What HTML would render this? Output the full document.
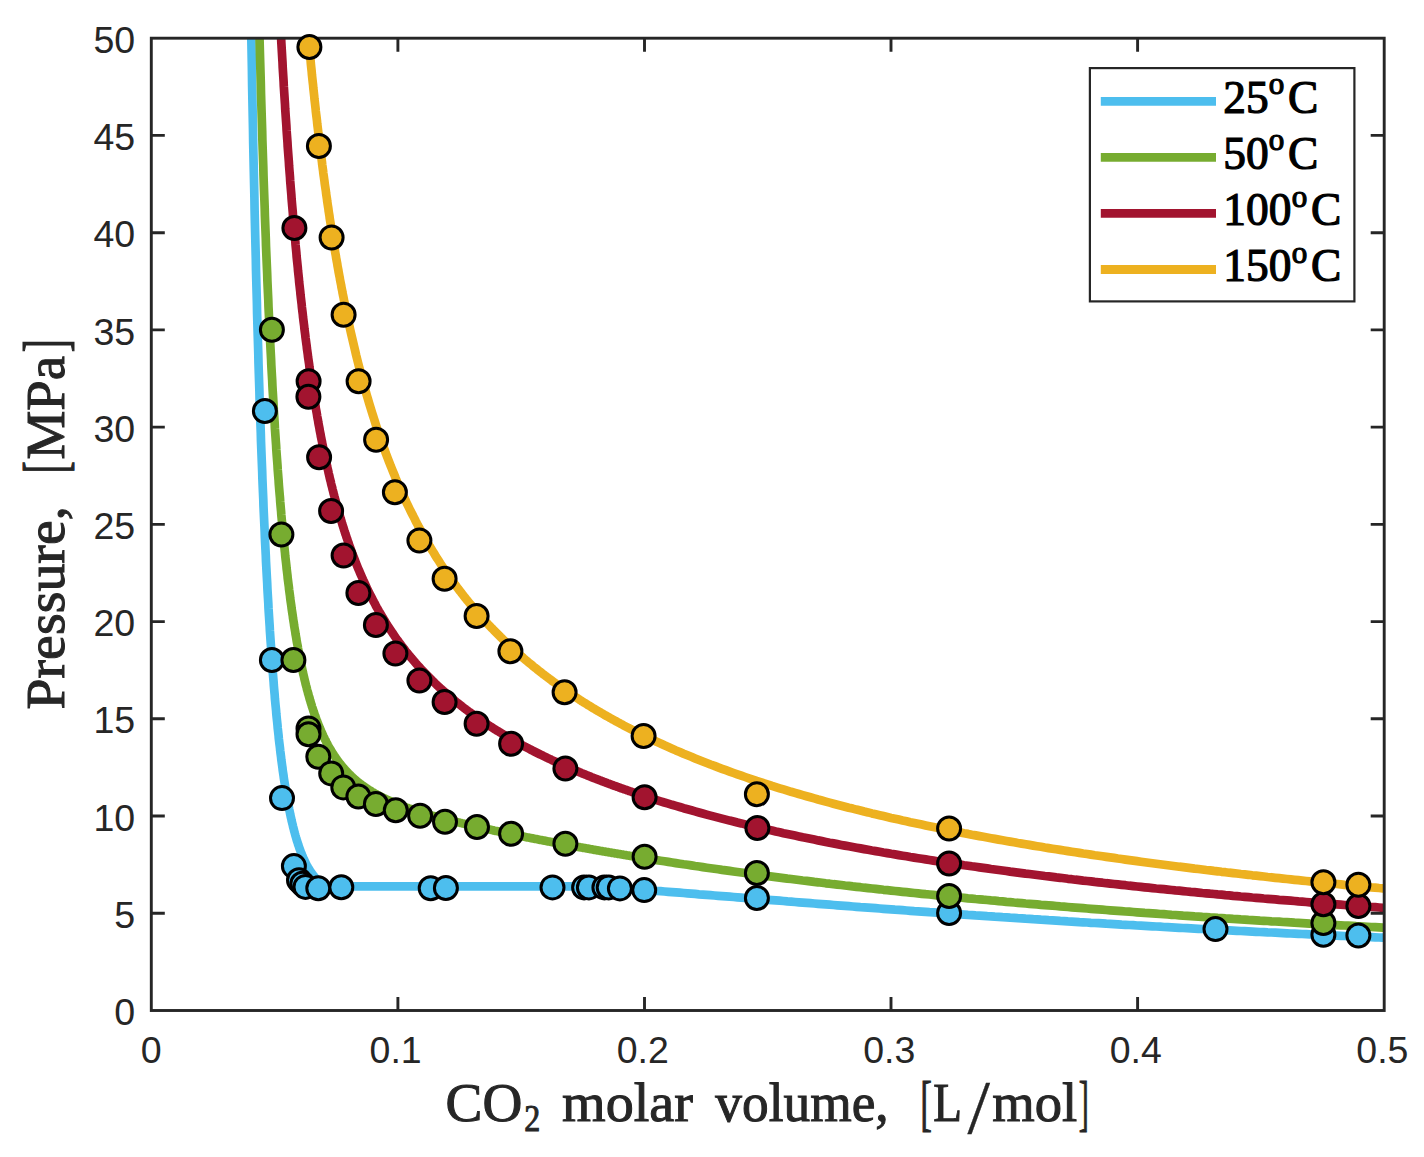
<!DOCTYPE html>
<html><head><meta charset="utf-8"><title>CO2 isotherms</title>
<style>html,body{margin:0;padding:0;background:#fff}svg{display:block}.t{font-family:"Liberation Sans",sans-serif;font-size:37.5px;fill:#262626}.s{font-family:"Liberation Serif",serif;fill:#262626}</style></head><body>
<svg width="1424" height="1157" viewBox="0 0 1424 1157">
<rect width="1424" height="1157" fill="#fff"/>
<defs><clipPath id="c"><rect x="151.3" y="38.2" width="1232.9" height="972.3"/></clipPath></defs>
<g clip-path="url(#c)" fill="none" stroke-width="8.7" stroke-linejoin="round">
<path d="M248.5 -148.9 L248.8 -128.3 L249.1 -108.2 L249.4 -88.6 L249.6 -69.4 L249.9 -50.6 L250.2 -32.3 L250.5 -14.5 L250.7 3.0 L251.0 20.1 L251.3 36.8 L251.6 53.1 L251.9 69.0 L252.1 84.6 L252.4 99.8 L252.7 114.7 L253.0 129.3 L253.2 143.5 L253.5 157.4 L253.8 171.1 L254.1 184.4 L254.4 197.5 L254.6 210.2 L254.9 222.8 L255.2 235.0 L255.5 247.0 L255.8 258.7 L256.0 270.2 L256.3 281.4 L256.6 292.4 L256.9 303.2 L257.1 313.8 L257.4 324.1 L257.7 334.3 L258.0 344.2 L258.3 354.0 L258.5 363.5 L258.8 372.8 L259.1 382.0 L259.4 391.0 L259.6 399.8 L259.9 408.4 L260.2 416.9 L260.5 425.2 L260.8 433.3 L261.0 441.3 L261.3 449.1 L261.6 456.8 L261.9 464.3 L262.2 471.7 L262.4 478.9 L262.7 486.0 L263.0 493.0 L263.3 499.8 L263.5 506.5 L263.8 513.1 L264.1 519.5 L264.4 525.9 L264.7 532.1 L264.9 538.2 L265.2 544.2 L265.5 550.1 L265.8 555.9 L266.0 561.5 L266.3 567.1 L266.6 572.6 L266.9 577.9 L267.2 583.2 L267.4 588.4 L267.7 593.5 L268.0 598.4 L268.3 603.3 L268.5 608.2 L268.8 612.9 L269.1 617.5 L269.4 622.1 L269.7 626.6 L269.9 631.0 L270.2 635.3 L270.5 639.6 L270.8 643.7 L271.1 647.9 L271.3 651.9 L271.6 655.9 L271.9 659.8 L272.2 663.6 L272.4 667.3 L272.7 671.0 L273.0 674.7 L273.3 678.3 L273.6 681.8 L273.8 685.2 L274.1 688.6 L274.4 692.0 L274.7 695.2 L274.9 698.5 L275.2 701.6 L275.5 704.8 L275.8 707.8 L276.1 710.8 L276.3 713.8 L276.6 716.7 L276.9 719.6 L277.2 722.4 L277.5 725.2 L277.7 727.9 L278.0 730.6 L278.3 733.2 L278.6 735.8 L278.8 738.4 L279.1 740.9 L279.4 743.4 L279.7 745.8 L280.0 748.2 L280.2 750.5 L280.5 752.9 L280.8 755.1 L281.1 757.4 L281.3 759.6 L281.6 761.7 L281.9 763.9 L282.2 766.0 L282.5 768.0 L282.7 770.1 L283.0 772.1 L283.3 774.0 L283.6 776.0 L283.8 777.9 L284.1 779.7 L284.4 781.6 L284.7 783.4 L285.0 785.2 L285.2 787.0 L285.5 788.7 L285.8 790.4 L286.1 792.1 L286.4 793.7 L286.6 795.3 L286.9 796.9 L287.2 798.5 L287.5 800.1 L287.7 801.6 L288.0 803.1 L288.3 804.6 L288.6 806.0 L288.9 807.4 L289.1 808.9 L289.4 810.2 L289.7 811.6 L290.0 812.9 L290.2 814.3 L290.5 815.6 L290.8 816.9 L291.1 818.1 L291.4 819.4 L291.6 820.6 L291.9 821.8 L292.2 823.0 L292.5 824.1 L292.8 825.3 L293.0 826.4 L293.3 827.5 L293.6 828.6 L293.9 829.7 L294.1 830.8 L294.4 831.8 L294.7 832.8 L295.0 833.9 L295.3 834.9 L295.5 835.8 L295.8 836.8 L296.1 837.8 L296.4 838.7 L296.6 839.6 L296.9 840.5 L297.2 841.4 L297.5 842.3 L297.8 843.2 L298.0 844.0 L298.3 844.9 L298.6 845.7 L298.9 846.5 L299.1 847.3 L299.4 848.1 L299.7 848.9 L300.0 849.7 L300.3 850.4 L300.5 851.2 L300.8 851.9 L301.1 852.6 L301.4 853.3 L301.7 854.0 L301.9 854.7 L302.2 855.4 L302.5 856.0 L302.8 856.7 L303.0 857.4 L303.3 858.0 L303.6 858.6 L303.9 859.2 L304.2 859.8 L304.4 860.4 L304.7 861.0 L305.0 861.6 L305.3 862.2 L305.5 862.7 L305.8 863.3 L306.1 863.8 L306.4 864.4 L306.7 864.9 L306.9 865.4 L307.2 865.9 L307.5 866.4 L307.8 866.9 L308.0 867.4 L308.3 867.9 L308.6 868.4 L308.9 868.8 L309.2 869.3 L309.4 869.7 L309.7 870.2 L310.0 870.6 L310.3 871.0 L310.6 871.5 L310.8 871.9 L311.1 872.3 L311.4 872.7 L311.7 873.1 L311.9 873.5 L312.2 873.8 L312.5 874.2 L312.8 874.6 L313.1 875.0 L313.3 875.3 L313.6 875.7 L313.9 876.0 L314.2 876.4 L314.4 876.7 L314.7 877.0 L315.0 877.4 L315.6 878.0 L316.1 878.6 L316.7 879.2 L317.2 879.8 L317.8 880.3 L318.3 880.9 L318.9 881.4 L319.5 881.9 L320.0 882.4 L320.6 882.8 L321.1 883.3 L321.7 883.7 L322.2 884.2 L322.8 884.6 L323.3 885.0 L323.9 885.3 L324.5 885.7 L325.0 886.1 L325.6 886.4 L591.0 886.4 L591.7 886.4 L592.7 886.5 L593.7 886.5 L594.7 886.6 L595.7 886.7 L596.7 886.7 L597.7 886.8 L598.7 886.9 L599.7 886.9 L600.7 887.0 L601.6 887.0 L602.6 887.1 L603.6 887.2 L604.6 887.2 L605.6 887.3 L606.6 887.4 L607.6 887.4 L608.6 887.5 L609.6 887.6 L610.6 887.6 L611.5 887.7 L612.5 887.8 L613.5 887.8 L614.5 887.9 L615.5 888.0 L616.5 888.0 L617.5 888.1 L618.5 888.2 L619.5 888.2 L620.5 888.3 L621.4 888.4 L622.4 888.4 L623.4 888.5 L624.4 888.6 L625.4 888.7 L626.4 888.7 L627.4 888.8 L628.4 888.9 L629.4 888.9 L630.4 889.0 L631.3 889.1 L632.3 889.1 L633.3 889.2 L634.3 889.3 L635.3 889.4 L636.3 889.4 L637.3 889.5 L638.3 889.6 L639.3 889.6 L640.3 889.7 L641.2 889.8 L642.2 889.9 L643.2 889.9 L644.2 890.0 L645.2 890.1 L649.0 890.4 L652.9 890.7 L656.7 891.0 L660.6 891.2 L664.4 891.5 L668.3 891.8 L672.1 892.1 L675.9 892.4 L679.8 892.7 L683.6 893.0 L687.5 893.3 L691.3 893.6 L695.1 893.9 L699.0 894.3 L702.8 894.6 L706.7 894.9 L710.5 895.2 L714.4 895.5 L718.2 895.8 L722.0 896.1 L725.9 896.4 L729.7 896.7 L733.6 897.0 L737.4 897.3 L741.3 897.6 L745.1 898.0 L748.9 898.3 L752.8 898.6 L756.6 898.9 L760.5 899.2 L764.3 899.5 L768.2 899.8 L772.0 900.1 L775.8 900.4 L779.7 900.7 L783.5 901.0 L787.4 901.4 L791.2 901.7 L795.0 902.0 L798.9 902.3 L802.7 902.6 L806.6 902.9 L810.4 903.2 L814.3 903.5 L818.1 903.8 L821.9 904.1 L825.8 904.4 L829.6 904.7 L833.5 905.0 L837.3 905.3 L841.2 905.6 L845.0 905.9 L848.8 906.2 L852.7 906.5 L856.5 906.8 L860.4 907.1 L864.2 907.3 L868.1 907.6 L871.9 907.9 L875.7 908.2 L879.6 908.5 L883.4 908.8 L887.3 909.1 L891.1 909.4 L894.9 909.7 L898.8 909.9 L902.6 910.2 L906.5 910.5 L910.3 910.8 L914.2 911.1 L918.0 911.3 L921.8 911.6 L925.7 911.9 L929.5 912.2 L933.4 912.4 L937.2 912.7 L941.1 913.0 L944.9 913.3 L948.7 913.5 L952.6 913.8 L956.4 914.1 L960.3 914.3 L964.1 914.6 L968.0 914.9 L971.8 915.1 L975.6 915.4 L979.5 915.6 L983.3 915.9 L987.2 916.2 L991.0 916.4 L994.8 916.7 L998.7 916.9 L1002.5 917.2 L1006.4 917.4 L1010.2 917.7 L1014.1 917.9 L1017.9 918.2 L1021.7 918.4 L1025.6 918.7 L1029.4 918.9 L1033.3 919.2 L1037.1 919.4 L1041.0 919.7 L1044.8 919.9 L1048.6 920.2 L1052.5 920.4 L1056.3 920.6 L1060.2 920.9 L1064.0 921.1 L1067.9 921.4 L1071.7 921.6 L1075.5 921.8 L1079.4 922.1 L1083.2 922.3 L1087.1 922.5 L1090.9 922.8 L1094.7 923.0 L1098.6 923.2 L1102.4 923.4 L1106.3 923.7 L1110.1 923.9 L1114.0 924.1 L1117.8 924.3 L1121.6 924.6 L1125.5 924.8 L1129.3 925.0 L1133.2 925.2 L1137.0 925.5 L1140.9 925.7 L1144.7 925.9 L1148.5 926.1 L1152.4 926.3 L1156.2 926.5 L1160.1 926.7 L1163.9 927.0 L1167.8 927.2 L1171.6 927.4 L1175.4 927.6 L1179.3 927.8 L1183.1 928.0 L1187.0 928.2 L1190.8 928.4 L1194.6 928.6 L1198.5 928.8 L1202.3 929.0 L1206.2 929.2 L1210.0 929.4 L1213.9 929.6 L1217.7 929.8 L1221.5 930.0 L1225.4 930.2 L1229.2 930.4 L1233.1 930.6 L1236.9 930.8 L1240.8 931.0 L1244.6 931.2 L1248.4 931.4 L1252.3 931.6 L1256.1 931.8 L1260.0 932.0 L1263.8 932.2 L1267.7 932.4 L1271.5 932.5 L1275.3 932.7 L1279.2 932.9 L1283.0 933.1 L1286.9 933.3 L1290.7 933.5 L1294.5 933.6 L1298.4 933.8 L1302.2 934.0 L1306.1 934.2 L1309.9 934.4 L1313.8 934.6 L1317.6 934.7 L1321.4 934.9 L1325.3 935.1 L1329.1 935.3 L1333.0 935.4 L1336.8 935.6 L1340.7 935.8 L1344.5 936.0 L1348.3 936.1 L1352.2 936.3 L1356.0 936.5 L1359.9 936.6 L1363.7 936.8 L1367.5 937.0 L1371.4 937.1 L1375.2 937.3 L1379.1 937.5 L1382.9 937.6 L1386.8 937.8 L1390.6 938.0 L1394.4 938.1 L1398.3 938.3 L1402.1 938.5 L1406.0 938.6 L1409.8 938.8" stroke="#4DBEEE"/>
<path d="M255.5 -146.2 L255.8 -131.9 L256.0 -117.9 L256.3 -104.2 L256.6 -90.8 L256.9 -77.6 L257.1 -64.7 L257.4 -52.0 L257.7 -39.5 L258.0 -27.3 L258.3 -15.3 L258.5 -3.6 L258.8 8.0 L259.1 19.3 L259.4 30.5 L259.6 41.4 L259.9 52.1 L260.2 62.6 L260.5 73.0 L260.8 83.2 L261.0 93.1 L261.3 102.9 L261.6 112.6 L261.9 122.0 L262.2 131.3 L262.4 140.5 L262.7 149.4 L263.0 158.3 L263.3 166.9 L263.5 175.4 L263.8 183.8 L264.1 192.1 L264.4 200.2 L264.7 208.1 L264.9 215.9 L265.2 223.6 L265.5 231.2 L265.8 238.7 L266.0 246.0 L266.3 253.2 L266.6 260.3 L266.9 267.2 L267.2 274.1 L267.4 280.8 L267.7 287.5 L268.0 294.0 L268.3 300.4 L268.5 306.8 L268.8 313.0 L269.1 319.1 L269.4 325.1 L269.7 331.1 L269.9 336.9 L270.2 342.7 L270.5 348.4 L270.8 353.9 L271.1 359.4 L271.3 364.8 L271.6 370.2 L271.9 375.4 L272.2 380.6 L272.4 385.7 L272.7 390.7 L273.0 395.6 L273.3 400.5 L273.6 405.3 L273.8 410.0 L274.1 414.6 L274.4 419.2 L274.7 423.7 L274.9 428.2 L275.2 432.6 L275.5 436.9 L275.8 441.2 L276.1 445.3 L276.3 449.5 L276.6 453.6 L276.9 457.6 L277.2 461.5 L277.5 465.5 L277.7 469.3 L278.0 473.1 L278.3 476.8 L278.6 480.5 L278.8 484.2 L279.1 487.8 L279.4 491.3 L279.7 494.8 L280.0 498.2 L280.2 501.6 L280.5 505.0 L280.8 508.3 L281.1 511.6 L281.3 514.8 L281.6 517.9 L281.9 521.1 L282.2 524.2 L282.5 527.2 L282.7 530.2 L283.0 533.2 L283.3 536.1 L283.6 539.0 L283.8 541.8 L284.1 544.7 L284.4 547.4 L284.7 550.2 L285.0 552.9 L285.2 555.5 L285.5 558.2 L285.8 560.8 L286.1 563.3 L286.4 565.9 L286.6 568.4 L286.9 570.8 L287.2 573.3 L287.5 575.7 L287.7 578.1 L288.0 580.4 L288.3 582.7 L288.6 585.0 L288.9 587.3 L289.1 589.5 L289.4 591.7 L289.7 593.9 L290.0 596.0 L290.2 598.2 L290.5 600.3 L290.8 602.3 L291.1 604.4 L291.4 606.4 L291.6 608.4 L291.9 610.4 L292.2 612.3 L292.5 614.2 L292.8 616.1 L293.0 618.0 L293.3 619.9 L293.6 621.7 L293.9 623.5 L294.1 625.3 L294.4 627.1 L294.7 628.8 L295.0 630.5 L295.3 632.2 L295.5 633.9 L295.8 635.6 L296.1 637.3 L296.4 638.9 L296.6 640.5 L296.9 642.1 L297.2 643.7 L297.5 645.2 L297.8 646.7 L298.0 648.3 L298.3 649.8 L298.6 651.3 L298.9 652.7 L299.1 654.2 L299.4 655.6 L299.7 657.0 L300.0 658.4 L300.3 659.8 L300.5 661.2 L300.8 662.5 L301.1 663.9 L301.4 665.2 L301.7 666.5 L301.9 667.8 L302.2 669.1 L302.5 670.4 L302.8 671.6 L303.0 672.9 L303.3 674.1 L303.6 675.3 L303.9 676.5 L304.2 677.7 L304.4 678.9 L304.7 680.0 L305.0 681.2 L305.3 682.3 L305.5 683.4 L305.8 684.6 L306.1 685.7 L306.4 686.7 L306.7 687.8 L306.9 688.9 L307.2 689.9 L307.5 691.0 L307.8 692.0 L308.0 693.0 L308.3 694.1 L308.6 695.1 L308.9 696.1 L309.2 697.0 L309.4 698.0 L309.7 699.0 L310.0 699.9 L310.3 700.9 L310.6 701.8 L310.8 702.7 L311.1 703.6 L311.4 704.5 L311.7 705.4 L311.9 706.3 L312.2 707.2 L312.5 708.0 L312.8 708.9 L313.1 709.8 L313.3 710.6 L313.6 711.4 L313.9 712.3 L314.2 713.1 L314.4 713.9 L314.7 714.7 L315.0 715.5 L315.3 716.3 L315.6 717.0 L315.8 717.8 L316.1 718.6 L316.4 719.3 L316.7 720.1 L317.0 720.8 L317.2 721.5 L317.5 722.3 L317.8 723.0 L318.1 723.7 L318.3 724.4 L318.6 725.1 L318.9 725.8 L319.2 726.5 L319.5 727.2 L319.7 727.8 L320.0 728.5 L320.3 729.2 L320.6 729.8 L320.8 730.5 L321.1 731.1 L321.4 731.7 L321.7 732.4 L322.0 733.0 L322.2 733.6 L322.5 734.2 L322.8 734.8 L323.1 735.4 L323.3 736.0 L323.6 736.6 L323.9 737.2 L324.2 737.8 L324.5 738.4 L324.7 738.9 L325.0 739.5 L325.3 740.0 L325.6 740.6 L325.9 741.1 L326.1 741.7 L326.4 742.2 L326.7 742.8 L327.0 743.3 L327.2 743.8 L327.5 744.3 L327.8 744.9 L328.1 745.4 L328.4 745.9 L328.6 746.4 L328.9 746.9 L329.2 747.4 L329.5 747.9 L329.7 748.3 L330.0 748.8 L330.3 749.3 L330.6 749.8 L330.9 750.2 L331.1 750.7 L331.4 751.2 L331.7 751.6 L332.0 752.1 L332.3 752.5 L332.5 753.0 L332.8 753.4 L333.1 753.9 L333.4 754.3 L333.6 754.7 L333.9 755.1 L334.2 755.6 L334.5 756.0 L334.8 756.4 L335.0 756.8 L335.3 757.2 L335.6 757.6 L335.9 758.0 L336.1 758.4 L336.4 758.8 L336.7 759.2 L337.0 759.6 L337.3 760.0 L337.5 760.4 L337.8 760.8 L338.1 761.1 L338.4 761.5 L338.6 761.9 L338.9 762.3 L339.2 762.6 L339.5 763.0 L339.8 763.4 L340.0 763.7 L340.3 764.1 L340.6 764.4 L340.9 764.8 L341.2 765.1 L341.4 765.5 L341.7 765.8 L342.0 766.1 L342.3 766.5 L342.5 766.8 L342.8 767.1 L343.1 767.5 L343.4 767.8 L343.7 768.1 L344.2 768.8 L344.8 769.4 L345.3 770.0 L345.9 770.6 L346.4 771.2 L347.0 771.8 L347.6 772.4 L348.1 773.0 L348.7 773.6 L349.2 774.1 L350.2 775.1 L351.2 776.0 L352.2 777.0 L353.2 777.9 L354.2 778.8 L355.2 779.6 L356.1 780.5 L357.1 781.3 L358.1 782.1 L359.1 782.9 L360.1 783.7 L361.1 784.4 L362.1 785.2 L363.1 785.9 L364.1 786.6 L365.1 787.3 L366.0 788.0 L367.0 788.6 L368.0 789.3 L369.0 789.9 L370.0 790.5 L371.0 791.1 L372.0 791.8 L373.0 792.3 L374.0 792.9 L375.0 793.5 L375.9 794.0 L376.9 794.6 L377.9 795.1 L378.9 795.7 L379.9 796.2 L380.9 796.7 L381.9 797.2 L382.9 797.7 L383.9 798.2 L384.9 798.6 L385.8 799.1 L386.8 799.6 L387.8 800.0 L388.8 800.5 L389.8 800.9 L390.8 801.3 L391.8 801.8 L392.8 802.2 L393.8 802.6 L394.8 803.0 L395.7 803.4 L396.7 803.8 L397.7 804.2 L398.7 804.6 L399.7 805.0 L400.7 805.4 L401.7 805.8 L402.7 806.1 L403.7 806.5 L404.7 806.9 L405.6 807.2 L406.6 807.6 L407.6 807.9 L408.6 808.3 L409.6 808.6 L410.6 808.9 L411.6 809.3 L412.6 809.6 L413.6 809.9 L414.6 810.3 L415.5 810.6 L416.5 810.9 L417.5 811.2 L418.5 811.5 L419.5 811.9 L420.5 812.2 L421.5 812.5 L422.5 812.8 L423.5 813.1 L424.5 813.4 L425.4 813.7 L426.4 814.0 L427.4 814.2 L428.4 814.5 L429.4 814.8 L430.4 815.1 L431.4 815.4 L432.4 815.7 L433.4 815.9 L434.4 816.2 L435.3 816.5 L436.3 816.8 L437.3 817.0 L438.3 817.3 L439.3 817.6 L440.3 817.8 L441.3 818.1 L442.3 818.4 L443.3 818.6 L444.3 818.9 L445.2 819.1 L446.2 819.4 L447.2 819.7 L448.2 819.9 L449.2 820.2 L450.2 820.4 L451.2 820.7 L452.2 820.9 L453.2 821.2 L454.1 821.4 L455.1 821.6 L456.1 821.9 L457.1 822.1 L458.1 822.4 L459.1 822.6 L460.1 822.8 L461.1 823.1 L462.1 823.3 L463.1 823.6 L464.0 823.8 L465.0 824.0 L466.0 824.3 L467.0 824.5 L468.0 824.7 L469.0 825.0 L470.0 825.2 L471.0 825.4 L472.0 825.6 L473.0 825.9 L473.9 826.1 L474.9 826.3 L475.9 826.5 L476.9 826.8 L477.9 827.0 L478.9 827.2 L479.9 827.4 L480.9 827.7 L481.9 827.9 L482.9 828.1 L483.8 828.3 L484.8 828.5 L485.8 828.7 L486.8 829.0 L487.8 829.2 L488.8 829.4 L489.8 829.6 L490.8 829.8 L491.8 830.0 L492.8 830.2 L493.7 830.5 L494.7 830.7 L495.7 830.9 L496.7 831.1 L497.7 831.3 L498.7 831.5 L499.7 831.7 L500.7 831.9 L501.7 832.1 L502.7 832.3 L503.6 832.6 L504.6 832.8 L505.6 833.0 L506.6 833.2 L507.6 833.4 L508.6 833.6 L509.6 833.8 L510.6 834.0 L511.6 834.2 L512.6 834.4 L513.5 834.6 L514.5 834.8 L515.5 835.0 L516.5 835.2 L517.5 835.4 L518.5 835.6 L519.5 835.8 L520.5 836.0 L521.5 836.2 L522.5 836.4 L523.4 836.6 L524.4 836.8 L525.4 837.0 L526.4 837.2 L527.4 837.4 L528.4 837.6 L529.4 837.8 L530.4 838.0 L531.4 838.2 L532.4 838.3 L533.3 838.5 L534.3 838.7 L535.3 838.9 L536.3 839.1 L537.3 839.3 L538.3 839.5 L539.3 839.7 L540.3 839.9 L541.3 840.1 L542.3 840.3 L543.2 840.5 L544.2 840.6 L545.2 840.8 L546.2 841.0 L547.2 841.2 L548.2 841.4 L549.2 841.6 L550.2 841.8 L551.2 842.0 L552.1 842.1 L553.1 842.3 L554.1 842.5 L555.1 842.7 L556.1 842.9 L557.1 843.1 L558.1 843.3 L559.1 843.4 L560.1 843.6 L561.1 843.8 L562.0 844.0 L563.0 844.2 L564.0 844.4 L565.0 844.5 L566.0 844.7 L567.0 844.9 L568.0 845.1 L569.0 845.3 L570.0 845.4 L571.0 845.6 L571.9 845.8 L572.9 846.0 L573.9 846.2 L574.9 846.3 L575.9 846.5 L576.9 846.7 L577.9 846.9 L578.9 847.1 L579.9 847.2 L580.9 847.4 L581.8 847.6 L582.8 847.8 L583.8 847.9 L584.8 848.1 L585.8 848.3 L586.8 848.5 L587.8 848.6 L588.8 848.8 L589.8 849.0 L590.8 849.2 L591.7 849.3 L592.7 849.5 L593.7 849.7 L594.7 849.9 L595.7 850.0 L596.7 850.2 L597.7 850.4 L598.7 850.5 L599.7 850.7 L600.7 850.9 L601.6 851.1 L602.6 851.2 L603.6 851.4 L604.6 851.6 L605.6 851.7 L606.6 851.9 L607.6 852.1 L608.6 852.2 L609.6 852.4 L610.6 852.6 L611.5 852.8 L612.5 852.9 L613.5 853.1 L614.5 853.3 L615.5 853.4 L616.5 853.6 L617.5 853.8 L618.5 853.9 L619.5 854.1 L620.5 854.3 L621.4 854.4 L622.4 854.6 L623.4 854.7 L624.4 854.9 L625.4 855.1 L626.4 855.2 L627.4 855.4 L628.4 855.6 L629.4 855.7 L630.4 855.9 L631.3 856.1 L632.3 856.2 L633.3 856.4 L634.3 856.5 L635.3 856.7 L636.3 856.9 L637.3 857.0 L638.3 857.2 L639.3 857.3 L640.3 857.5 L641.2 857.7 L642.2 857.8 L643.2 858.0 L644.2 858.1 L645.2 858.3 L649.0 858.9 L652.9 859.5 L656.7 860.1 L660.6 860.7 L664.4 861.3 L668.3 861.9 L672.1 862.5 L675.9 863.1 L679.8 863.7 L683.6 864.3 L687.5 864.8 L691.3 865.4 L695.1 866.0 L699.0 866.5 L702.8 867.1 L706.7 867.7 L710.5 868.2 L714.4 868.8 L718.2 869.3 L722.0 869.9 L725.9 870.4 L729.7 870.9 L733.6 871.5 L737.4 872.0 L741.3 872.5 L745.1 873.0 L748.9 873.6 L752.8 874.1 L756.6 874.6 L760.5 875.1 L764.3 875.6 L768.2 876.1 L772.0 876.6 L775.8 877.1 L779.7 877.6 L783.5 878.1 L787.4 878.6 L791.2 879.0 L795.0 879.5 L798.9 880.0 L802.7 880.5 L806.6 880.9 L810.4 881.4 L814.3 881.9 L818.1 882.3 L821.9 882.8 L825.8 883.3 L829.6 883.7 L833.5 884.2 L837.3 884.6 L841.2 885.0 L845.0 885.5 L848.8 885.9 L852.7 886.4 L856.5 886.8 L860.4 887.2 L864.2 887.7 L868.1 888.1 L871.9 888.5 L875.7 888.9 L879.6 889.3 L883.4 889.8 L887.3 890.2 L891.1 890.6 L894.9 891.0 L898.8 891.4 L902.6 891.8 L906.5 892.2 L910.3 892.6 L914.2 893.0 L918.0 893.4 L921.8 893.8 L925.7 894.2 L929.5 894.5 L933.4 894.9 L937.2 895.3 L941.1 895.7 L944.9 896.1 L948.7 896.4 L952.6 896.8 L956.4 897.2 L960.3 897.5 L964.1 897.9 L968.0 898.3 L971.8 898.6 L975.6 899.0 L979.5 899.3 L983.3 899.7 L987.2 900.0 L991.0 900.4 L994.8 900.7 L998.7 901.1 L1002.5 901.4 L1006.4 901.8 L1010.2 902.1 L1014.1 902.5 L1017.9 902.8 L1021.7 903.1 L1025.6 903.5 L1029.4 903.8 L1033.3 904.1 L1037.1 904.4 L1041.0 904.8 L1044.8 905.1 L1048.6 905.4 L1052.5 905.7 L1056.3 906.0 L1060.2 906.4 L1064.0 906.7 L1067.9 907.0 L1071.7 907.3 L1075.5 907.6 L1079.4 907.9 L1083.2 908.2 L1087.1 908.5 L1090.9 908.8 L1094.7 909.1 L1098.6 909.4 L1102.4 909.7 L1106.3 910.0 L1110.1 910.3 L1114.0 910.6 L1117.8 910.9 L1121.6 911.2 L1125.5 911.5 L1129.3 911.7 L1133.2 912.0 L1137.0 912.3 L1140.9 912.6 L1144.7 912.9 L1148.5 913.1 L1152.4 913.4 L1156.2 913.7 L1160.1 914.0 L1163.9 914.2 L1167.8 914.5 L1171.6 914.8 L1175.4 915.0 L1179.3 915.3 L1183.1 915.6 L1187.0 915.8 L1190.8 916.1 L1194.6 916.4 L1198.5 916.6 L1202.3 916.9 L1206.2 917.1 L1210.0 917.4 L1213.9 917.6 L1217.7 917.9 L1221.5 918.1 L1225.4 918.4 L1229.2 918.6 L1233.1 918.9 L1236.9 919.1 L1240.8 919.4 L1244.6 919.6 L1248.4 919.9 L1252.3 920.1 L1256.1 920.3 L1260.0 920.6 L1263.8 920.8 L1267.7 921.0 L1271.5 921.3 L1275.3 921.5 L1279.2 921.7 L1283.0 922.0 L1286.9 922.2 L1290.7 922.4 L1294.5 922.7 L1298.4 922.9 L1302.2 923.1 L1306.1 923.3 L1309.9 923.6 L1313.8 923.8 L1317.6 924.0 L1321.4 924.2 L1325.3 924.4 L1329.1 924.7 L1333.0 924.9 L1336.8 925.1 L1340.7 925.3 L1344.5 925.5 L1348.3 925.7 L1352.2 925.9 L1356.0 926.2 L1359.9 926.4 L1363.7 926.6 L1367.5 926.8 L1371.4 927.0 L1375.2 927.2 L1379.1 927.4 L1382.9 927.6 L1386.8 927.8 L1390.6 928.0 L1394.4 928.2 L1398.3 928.4 L1402.1 928.6 L1406.0 928.8 L1409.8 929.0" stroke="#77AC30"/>
<path d="M272.7 -151.0 L273.0 -143.5 L273.3 -136.1 L273.6 -128.9 L273.8 -121.7 L274.1 -114.6 L274.4 -107.6 L274.7 -100.7 L274.9 -93.8 L275.2 -87.1 L275.5 -80.5 L275.8 -73.9 L276.1 -67.4 L276.3 -61.0 L276.6 -54.6 L276.9 -48.4 L277.2 -42.2 L277.5 -36.1 L277.7 -30.1 L278.0 -24.1 L278.3 -18.2 L278.6 -12.4 L278.8 -6.7 L279.1 -1.0 L279.4 4.6 L279.7 10.2 L280.0 15.7 L280.2 21.1 L280.5 26.5 L280.8 31.8 L281.1 37.0 L281.3 42.2 L281.6 47.3 L281.9 52.3 L282.2 57.4 L282.5 62.3 L282.7 67.2 L283.0 72.0 L283.3 76.8 L283.6 81.5 L283.8 86.2 L284.1 90.8 L284.4 95.4 L284.7 100.0 L285.0 104.4 L285.2 108.9 L285.5 113.2 L285.8 117.6 L286.1 121.9 L286.4 126.1 L286.6 130.3 L286.9 134.5 L287.2 138.6 L287.5 142.6 L287.7 146.7 L288.0 150.7 L288.3 154.6 L288.6 158.5 L288.9 162.4 L289.1 166.2 L289.4 170.0 L289.7 173.7 L290.0 177.4 L290.2 181.1 L290.5 184.7 L290.8 188.3 L291.1 191.9 L291.4 195.4 L291.6 198.9 L291.9 202.3 L292.2 205.8 L292.5 209.2 L292.8 212.5 L293.0 215.8 L293.3 219.1 L293.6 222.4 L293.9 225.6 L294.1 228.8 L294.4 232.0 L294.7 235.1 L295.0 238.2 L295.3 241.3 L295.5 244.3 L295.8 247.4 L296.1 250.3 L296.4 253.3 L296.6 256.2 L296.9 259.2 L297.2 262.0 L297.5 264.9 L297.8 267.7 L298.0 270.5 L298.3 273.3 L298.6 276.0 L298.9 278.8 L299.1 281.5 L299.4 284.2 L299.7 286.8 L300.0 289.4 L300.3 292.1 L300.5 294.6 L300.8 297.2 L301.1 299.7 L301.4 302.3 L301.7 304.8 L301.9 307.2 L302.2 309.7 L302.5 312.1 L302.8 314.5 L303.0 316.9 L303.3 319.3 L303.6 321.6 L303.9 324.0 L304.2 326.3 L304.4 328.6 L304.7 330.8 L305.0 333.1 L305.3 335.3 L305.5 337.5 L305.8 339.7 L306.1 341.9 L306.4 344.1 L306.7 346.2 L306.9 348.3 L307.2 350.4 L307.5 352.5 L307.8 354.6 L308.0 356.7 L308.3 358.7 L308.6 360.7 L308.9 362.7 L309.2 364.7 L309.4 366.7 L309.7 368.7 L310.0 370.6 L310.3 372.5 L310.6 374.4 L310.8 376.3 L311.1 378.2 L311.4 380.1 L311.7 382.0 L311.9 383.8 L312.2 385.6 L312.5 387.4 L312.8 389.2 L313.1 391.0 L313.3 392.8 L313.6 394.6 L313.9 396.3 L314.2 398.0 L314.4 399.7 L314.7 401.5 L315.0 403.1 L315.3 404.8 L315.6 406.5 L315.8 408.2 L316.1 409.8 L316.4 411.4 L316.7 413.0 L317.0 414.7 L317.2 416.3 L317.5 417.8 L317.8 419.4 L318.1 421.0 L318.3 422.5 L318.6 424.1 L318.9 425.6 L319.2 427.1 L319.5 428.6 L319.7 430.1 L320.0 431.6 L320.3 433.1 L320.6 434.5 L320.8 436.0 L321.1 437.4 L321.4 438.9 L321.7 440.3 L322.0 441.7 L322.2 443.1 L322.5 444.5 L322.8 445.9 L323.1 447.3 L323.3 448.7 L323.6 450.0 L323.9 451.4 L324.2 452.7 L324.5 454.0 L324.7 455.4 L325.0 456.7 L325.3 458.0 L325.6 459.3 L325.9 460.6 L326.1 461.8 L326.4 463.1 L326.7 464.4 L327.0 465.6 L327.2 466.9 L327.5 468.1 L327.8 469.3 L328.1 470.6 L328.4 471.8 L328.6 473.0 L328.9 474.2 L329.2 475.4 L329.5 476.6 L329.7 477.7 L330.0 478.9 L330.3 480.1 L330.6 481.2 L330.9 482.4 L331.1 483.5 L331.4 484.7 L331.7 485.8 L332.0 486.9 L332.3 488.0 L332.5 489.1 L332.8 490.2 L333.1 491.3 L333.4 492.4 L333.6 493.5 L333.9 494.5 L334.2 495.6 L334.5 496.7 L334.8 497.7 L335.0 498.8 L335.3 499.8 L335.6 500.8 L335.9 501.9 L336.1 502.9 L336.4 503.9 L336.7 504.9 L337.0 505.9 L337.3 506.9 L337.5 507.9 L337.8 508.9 L338.1 509.9 L338.4 510.9 L338.6 511.8 L338.9 512.8 L339.2 513.8 L339.5 514.7 L339.8 515.7 L340.0 516.6 L340.3 517.5 L340.6 518.5 L340.9 519.4 L341.2 520.3 L341.4 521.2 L341.7 522.1 L342.0 523.1 L342.3 524.0 L342.5 524.8 L342.8 525.7 L343.1 526.6 L343.4 527.5 L343.7 528.4 L343.9 529.3 L344.2 530.1 L344.5 531.0 L344.8 531.8 L345.0 532.7 L345.3 533.6 L345.6 534.4 L345.9 535.2 L346.2 536.1 L346.4 536.9 L346.7 537.7 L347.0 538.6 L347.3 539.4 L347.6 540.2 L347.8 541.0 L348.1 541.8 L348.4 542.6 L348.7 543.4 L348.9 544.2 L349.2 545.0 L350.2 547.8 L351.2 550.5 L352.2 553.2 L353.2 555.8 L354.2 558.4 L355.2 560.9 L356.1 563.4 L357.1 565.9 L358.1 568.3 L359.1 570.6 L360.1 573.0 L361.1 575.3 L362.1 577.5 L363.1 579.8 L364.1 581.9 L365.1 584.1 L366.0 586.2 L367.0 588.3 L368.0 590.4 L369.0 592.4 L370.0 594.4 L371.0 596.3 L372.0 598.3 L373.0 600.2 L374.0 602.1 L375.0 603.9 L375.9 605.8 L376.9 607.6 L377.9 609.3 L378.9 611.1 L379.9 612.8 L380.9 614.5 L381.9 616.2 L382.9 617.9 L383.9 619.5 L384.9 621.1 L385.8 622.7 L386.8 624.3 L387.8 625.9 L388.8 627.4 L389.8 628.9 L390.8 630.4 L391.8 631.9 L392.8 633.4 L393.8 634.8 L394.8 636.3 L395.7 637.7 L396.7 639.1 L397.7 640.4 L398.7 641.8 L399.7 643.2 L400.7 644.5 L401.7 645.8 L402.7 647.1 L403.7 648.4 L404.7 649.7 L405.6 651.0 L406.6 652.2 L407.6 653.4 L408.6 654.7 L409.6 655.9 L410.6 657.1 L411.6 658.3 L412.6 659.4 L413.6 660.6 L414.6 661.7 L415.5 662.9 L416.5 664.0 L417.5 665.1 L418.5 666.2 L419.5 667.3 L420.5 668.4 L421.5 669.5 L422.5 670.5 L423.5 671.6 L424.5 672.6 L425.4 673.7 L426.4 674.7 L427.4 675.7 L428.4 676.7 L429.4 677.7 L430.4 678.7 L431.4 679.7 L432.4 680.7 L433.4 681.6 L434.4 682.6 L435.3 683.5 L436.3 684.5 L437.3 685.4 L438.3 686.3 L439.3 687.3 L440.3 688.2 L441.3 689.1 L442.3 690.0 L443.3 690.8 L444.3 691.7 L445.2 692.6 L446.2 693.5 L447.2 694.3 L448.2 695.2 L449.2 696.0 L450.2 696.9 L451.2 697.7 L452.2 698.5 L453.2 699.3 L454.1 700.2 L455.1 701.0 L456.1 701.8 L457.1 702.6 L458.1 703.4 L459.1 704.1 L460.1 704.9 L461.1 705.7 L462.1 706.5 L463.1 707.2 L464.0 708.0 L465.0 708.7 L466.0 709.5 L467.0 710.2 L468.0 711.0 L469.0 711.7 L470.0 712.4 L471.0 713.1 L472.0 713.9 L473.0 714.6 L473.9 715.3 L474.9 716.0 L475.9 716.7 L476.9 717.4 L477.9 718.1 L478.9 718.8 L479.9 719.4 L480.9 720.1 L481.9 720.8 L482.9 721.5 L483.8 722.1 L484.8 722.8 L485.8 723.4 L486.8 724.1 L487.8 724.7 L488.8 725.4 L489.8 726.0 L490.8 726.7 L491.8 727.3 L492.8 727.9 L493.7 728.6 L494.7 729.2 L495.7 729.8 L496.7 730.4 L497.7 731.0 L498.7 731.6 L499.7 732.2 L500.7 732.8 L501.7 733.4 L502.7 734.0 L503.6 734.6 L504.6 735.2 L505.6 735.8 L506.6 736.4 L507.6 737.0 L508.6 737.5 L509.6 738.1 L510.6 738.7 L511.6 739.2 L512.6 739.8 L513.5 740.4 L514.5 740.9 L515.5 741.5 L516.5 742.0 L517.5 742.6 L518.5 743.1 L519.5 743.7 L520.5 744.2 L521.5 744.7 L522.5 745.3 L523.4 745.8 L524.4 746.3 L525.4 746.9 L526.4 747.4 L527.4 747.9 L528.4 748.4 L529.4 748.9 L530.4 749.5 L531.4 750.0 L532.4 750.5 L533.3 751.0 L534.3 751.5 L535.3 752.0 L536.3 752.5 L537.3 753.0 L538.3 753.5 L539.3 754.0 L540.3 754.5 L541.3 754.9 L542.3 755.4 L543.2 755.9 L544.2 756.4 L545.2 756.9 L546.2 757.4 L547.2 757.8 L548.2 758.3 L549.2 758.8 L550.2 759.2 L551.2 759.7 L552.1 760.2 L553.1 760.6 L554.1 761.1 L555.1 761.5 L556.1 762.0 L557.1 762.5 L558.1 762.9 L559.1 763.4 L560.1 763.8 L561.1 764.2 L562.0 764.7 L563.0 765.1 L564.0 765.6 L565.0 766.0 L566.0 766.4 L567.0 766.9 L568.0 767.3 L569.0 767.7 L570.0 768.2 L571.0 768.6 L571.9 769.0 L572.9 769.5 L573.9 769.9 L574.9 770.3 L575.9 770.7 L576.9 771.1 L577.9 771.5 L578.9 772.0 L579.9 772.4 L580.9 772.8 L581.8 773.2 L582.8 773.6 L583.8 774.0 L584.8 774.4 L585.8 774.8 L586.8 775.2 L587.8 775.6 L588.8 776.0 L589.8 776.4 L590.8 776.8 L591.7 777.2 L592.7 777.6 L593.7 778.0 L594.7 778.4 L595.7 778.7 L596.7 779.1 L597.7 779.5 L598.7 779.9 L599.7 780.3 L600.7 780.7 L601.6 781.0 L602.6 781.4 L603.6 781.8 L604.6 782.2 L605.6 782.5 L606.6 782.9 L607.6 783.3 L608.6 783.6 L609.6 784.0 L610.6 784.4 L611.5 784.7 L612.5 785.1 L613.5 785.5 L614.5 785.8 L615.5 786.2 L616.5 786.5 L617.5 786.9 L618.5 787.2 L619.5 787.6 L620.5 788.0 L621.4 788.3 L622.4 788.7 L623.4 789.0 L624.4 789.4 L625.4 789.7 L626.4 790.0 L627.4 790.4 L628.4 790.7 L629.4 791.1 L630.4 791.4 L631.3 791.7 L632.3 792.1 L633.3 792.4 L634.3 792.8 L635.3 793.1 L636.3 793.4 L637.3 793.8 L638.3 794.1 L639.3 794.4 L640.3 794.8 L641.2 795.1 L642.2 795.4 L643.2 795.7 L644.2 796.1 L645.2 796.4 L649.0 797.6 L652.9 798.9 L656.7 800.1 L660.6 801.3 L664.4 802.5 L668.3 803.6 L672.1 804.8 L675.9 805.9 L679.8 807.0 L683.6 808.2 L687.5 809.3 L691.3 810.3 L695.1 811.4 L699.0 812.5 L702.8 813.5 L706.7 814.6 L710.5 815.6 L714.4 816.6 L718.2 817.6 L722.0 818.6 L725.9 819.6 L729.7 820.6 L733.6 821.5 L737.4 822.5 L741.3 823.4 L745.1 824.4 L748.9 825.3 L752.8 826.2 L756.6 827.1 L760.5 828.0 L764.3 828.9 L768.2 829.8 L772.0 830.6 L775.8 831.5 L779.7 832.3 L783.5 833.2 L787.4 834.0 L791.2 834.8 L795.0 835.6 L798.9 836.4 L802.7 837.3 L806.6 838.0 L810.4 838.8 L814.3 839.6 L818.1 840.4 L821.9 841.1 L825.8 841.9 L829.6 842.7 L833.5 843.4 L837.3 844.1 L841.2 844.9 L845.0 845.6 L848.8 846.3 L852.7 847.0 L856.5 847.7 L860.4 848.4 L864.2 849.1 L868.1 849.8 L871.9 850.5 L875.7 851.1 L879.6 851.8 L883.4 852.5 L887.3 853.1 L891.1 853.8 L894.9 854.4 L898.8 855.1 L902.6 855.7 L906.5 856.3 L910.3 857.0 L914.2 857.6 L918.0 858.2 L921.8 858.8 L925.7 859.4 L929.5 860.0 L933.4 860.6 L937.2 861.2 L941.1 861.8 L944.9 862.3 L948.7 862.9 L952.6 863.5 L956.4 864.1 L960.3 864.6 L964.1 865.2 L968.0 865.7 L971.8 866.3 L975.6 866.8 L979.5 867.4 L983.3 867.9 L987.2 868.4 L991.0 869.0 L994.8 869.5 L998.7 870.0 L1002.5 870.5 L1006.4 871.0 L1010.2 871.6 L1014.1 872.1 L1017.9 872.6 L1021.7 873.1 L1025.6 873.6 L1029.4 874.0 L1033.3 874.5 L1037.1 875.0 L1041.0 875.5 L1044.8 876.0 L1048.6 876.4 L1052.5 876.9 L1056.3 877.4 L1060.2 877.8 L1064.0 878.3 L1067.9 878.8 L1071.7 879.2 L1075.5 879.7 L1079.4 880.1 L1083.2 880.6 L1087.1 881.0 L1090.9 881.4 L1094.7 881.9 L1098.6 882.3 L1102.4 882.7 L1106.3 883.2 L1110.1 883.6 L1114.0 884.0 L1117.8 884.4 L1121.6 884.8 L1125.5 885.2 L1129.3 885.7 L1133.2 886.1 L1137.0 886.5 L1140.9 886.9 L1144.7 887.3 L1148.5 887.7 L1152.4 888.1 L1156.2 888.5 L1160.1 888.8 L1163.9 889.2 L1167.8 889.6 L1171.6 890.0 L1175.4 890.4 L1179.3 890.7 L1183.1 891.1 L1187.0 891.5 L1190.8 891.9 L1194.6 892.2 L1198.5 892.6 L1202.3 893.0 L1206.2 893.3 L1210.0 893.7 L1213.9 894.0 L1217.7 894.4 L1221.5 894.7 L1225.4 895.1 L1229.2 895.4 L1233.1 895.8 L1236.9 896.1 L1240.8 896.5 L1244.6 896.8 L1248.4 897.1 L1252.3 897.5 L1256.1 897.8 L1260.0 898.1 L1263.8 898.5 L1267.7 898.8 L1271.5 899.1 L1275.3 899.4 L1279.2 899.8 L1283.0 900.1 L1286.9 900.4 L1290.7 900.7 L1294.5 901.0 L1298.4 901.4 L1302.2 901.7 L1306.1 902.0 L1309.9 902.3 L1313.8 902.6 L1317.6 902.9 L1321.4 903.2 L1325.3 903.5 L1329.1 903.8 L1333.0 904.1 L1336.8 904.4 L1340.7 904.7 L1344.5 905.0 L1348.3 905.3 L1352.2 905.5 L1356.0 905.8 L1359.9 906.1 L1363.7 906.4 L1367.5 906.7 L1371.4 907.0 L1375.2 907.2 L1379.1 907.5 L1382.9 907.8 L1386.8 908.1 L1390.6 908.3 L1394.4 908.6 L1398.3 908.9 L1402.1 909.2 L1406.0 909.4 L1409.8 909.7" stroke="#A2142F"/>
<path d="M293.9 -156.1 L294.1 -151.5 L294.4 -147.0 L294.7 -142.6 L295.0 -138.1 L295.3 -133.7 L295.5 -129.4 L295.8 -125.1 L296.1 -120.8 L296.4 -116.5 L296.6 -112.3 L296.9 -108.1 L297.2 -104.0 L297.5 -99.9 L297.8 -95.8 L298.0 -91.8 L298.3 -87.8 L298.6 -83.8 L298.9 -79.9 L299.1 -76.0 L299.4 -72.1 L299.7 -68.3 L300.0 -64.5 L300.3 -60.7 L300.5 -56.9 L300.8 -53.2 L301.1 -49.5 L301.4 -45.8 L301.7 -42.2 L301.9 -38.6 L302.2 -35.0 L302.5 -31.5 L302.8 -28.0 L303.0 -24.5 L303.3 -21.0 L303.6 -17.6 L303.9 -14.2 L304.2 -10.8 L304.4 -7.4 L304.7 -4.1 L305.0 -0.8 L305.3 2.5 L305.5 5.8 L305.8 9.0 L306.1 12.2 L306.4 15.4 L306.7 18.6 L306.9 21.7 L307.2 24.8 L307.5 27.9 L307.8 31.0 L308.0 34.0 L308.3 37.1 L308.6 40.1 L308.9 43.1 L309.2 46.0 L309.4 49.0 L309.7 51.9 L310.0 54.8 L310.3 57.7 L310.6 60.5 L310.8 63.3 L311.1 66.2 L311.4 69.0 L311.7 71.7 L311.9 74.5 L312.2 77.2 L312.5 80.0 L312.8 82.7 L313.1 85.3 L313.3 88.0 L313.6 90.6 L313.9 93.3 L314.2 95.9 L314.4 98.5 L314.7 101.1 L315.0 103.6 L315.3 106.2 L315.6 108.7 L315.8 111.2 L316.1 113.7 L316.4 116.1 L316.7 118.6 L317.0 121.0 L317.2 123.5 L317.5 125.9 L317.8 128.3 L318.1 130.6 L318.3 133.0 L318.6 135.4 L318.9 137.7 L319.2 140.0 L319.5 142.3 L319.7 144.6 L320.0 146.9 L320.3 149.1 L320.6 151.4 L320.8 153.6 L321.1 155.8 L321.4 158.0 L321.7 160.2 L322.0 162.4 L322.2 164.5 L322.5 166.7 L322.8 168.8 L323.1 170.9 L323.3 173.0 L323.6 175.1 L323.9 177.2 L324.2 179.3 L324.5 181.3 L324.7 183.4 L325.0 185.4 L325.3 187.4 L325.6 189.4 L325.9 191.4 L326.1 193.4 L326.4 195.4 L326.7 197.4 L327.0 199.3 L327.2 201.2 L327.5 203.2 L327.8 205.1 L328.1 207.0 L328.4 208.9 L328.6 210.8 L328.9 212.6 L329.2 214.5 L329.5 216.3 L329.7 218.2 L330.0 220.0 L330.3 221.8 L330.6 223.6 L330.9 225.4 L331.1 227.2 L331.4 229.0 L331.7 230.8 L332.0 232.5 L332.3 234.3 L332.5 236.0 L332.8 237.7 L333.1 239.4 L333.4 241.2 L333.6 242.9 L333.9 244.5 L334.2 246.2 L334.5 247.9 L334.8 249.6 L335.0 251.2 L335.3 252.9 L335.6 254.5 L335.9 256.1 L336.1 257.7 L336.4 259.3 L336.7 260.9 L337.0 262.5 L337.3 264.1 L337.5 265.7 L337.8 267.3 L338.1 268.8 L338.4 270.4 L338.6 271.9 L338.9 273.4 L339.2 275.0 L339.5 276.5 L339.8 278.0 L340.0 279.5 L340.3 281.0 L340.6 282.5 L340.9 284.0 L341.2 285.4 L341.4 286.9 L341.7 288.4 L342.0 289.8 L342.3 291.2 L342.5 292.7 L342.8 294.1 L343.1 295.5 L343.4 296.9 L343.7 298.4 L343.9 299.8 L344.2 301.1 L344.5 302.5 L344.8 303.9 L345.0 305.3 L345.3 306.6 L345.6 308.0 L345.9 309.4 L346.2 310.7 L346.4 312.0 L346.7 313.4 L347.0 314.7 L347.3 316.0 L347.6 317.3 L347.8 318.6 L348.1 319.9 L348.4 321.2 L348.7 322.5 L348.9 323.8 L349.2 325.1 L350.2 329.6 L351.2 334.0 L352.2 338.3 L353.2 342.6 L354.2 346.8 L355.2 351.0 L356.1 355.0 L357.1 359.0 L358.1 363.0 L359.1 366.9 L360.1 370.7 L361.1 374.5 L362.1 378.2 L363.1 381.8 L364.1 385.4 L365.1 389.0 L366.0 392.5 L367.0 395.9 L368.0 399.3 L369.0 402.7 L370.0 406.0 L371.0 409.3 L372.0 412.5 L373.0 415.6 L374.0 418.8 L375.0 421.9 L375.9 424.9 L376.9 427.9 L377.9 430.9 L378.9 433.8 L379.9 436.7 L380.9 439.5 L381.9 442.3 L382.9 445.1 L383.9 447.9 L384.9 450.6 L385.8 453.3 L386.8 455.9 L387.8 458.5 L388.8 461.1 L389.8 463.6 L390.8 466.2 L391.8 468.6 L392.8 471.1 L393.8 473.5 L394.8 475.9 L395.7 478.3 L396.7 480.7 L397.7 483.0 L398.7 485.3 L399.7 487.6 L400.7 489.8 L401.7 492.0 L402.7 494.2 L403.7 496.4 L404.7 498.5 L405.6 500.7 L406.6 502.8 L407.6 504.9 L408.6 506.9 L409.6 509.0 L410.6 511.0 L411.6 513.0 L412.6 514.9 L413.6 516.9 L414.6 518.8 L415.5 520.8 L416.5 522.7 L417.5 524.5 L418.5 526.4 L419.5 528.2 L420.5 530.1 L421.5 531.9 L422.5 533.7 L423.5 535.5 L424.5 537.2 L425.4 539.0 L426.4 540.7 L427.4 542.4 L428.4 544.1 L429.4 545.8 L430.4 547.4 L431.4 549.1 L432.4 550.7 L433.4 552.3 L434.4 553.9 L435.3 555.5 L436.3 557.1 L437.3 558.7 L438.3 560.2 L439.3 561.7 L440.3 563.3 L441.3 564.8 L442.3 566.3 L443.3 567.8 L444.3 569.2 L445.2 570.7 L446.2 572.1 L447.2 573.6 L448.2 575.0 L449.2 576.4 L450.2 577.8 L451.2 579.2 L452.2 580.6 L453.2 582.0 L454.1 583.3 L455.1 584.7 L456.1 586.0 L457.1 587.3 L458.1 588.6 L459.1 590.0 L460.1 591.3 L461.1 592.5 L462.1 593.8 L463.1 595.1 L464.0 596.3 L465.0 597.6 L466.0 598.8 L467.0 600.1 L468.0 601.3 L469.0 602.5 L470.0 603.7 L471.0 604.9 L472.0 606.1 L473.0 607.3 L473.9 608.4 L474.9 609.6 L475.9 610.7 L476.9 611.9 L477.9 613.0 L478.9 614.2 L479.9 615.3 L480.9 616.4 L481.9 617.5 L482.9 618.6 L483.8 619.7 L484.8 620.8 L485.8 621.8 L486.8 622.9 L487.8 624.0 L488.8 625.0 L489.8 626.1 L490.8 627.1 L491.8 628.2 L492.8 629.2 L493.7 630.2 L494.7 631.2 L495.7 632.2 L496.7 633.2 L497.7 634.2 L498.7 635.2 L499.7 636.2 L500.7 637.2 L501.7 638.1 L502.7 639.1 L503.6 640.1 L504.6 641.0 L505.6 642.0 L506.6 642.9 L507.6 643.8 L508.6 644.8 L509.6 645.7 L510.6 646.6 L511.6 647.5 L512.6 648.4 L513.5 649.3 L514.5 650.2 L515.5 651.1 L516.5 652.0 L517.5 652.9 L518.5 653.8 L519.5 654.7 L520.5 655.5 L521.5 656.4 L522.5 657.2 L523.4 658.1 L524.4 658.9 L525.4 659.8 L526.4 660.6 L527.4 661.4 L528.4 662.3 L529.4 663.1 L530.4 663.9 L531.4 664.7 L532.4 665.5 L533.3 666.4 L534.3 667.2 L535.3 667.9 L536.3 668.7 L537.3 669.5 L538.3 670.3 L539.3 671.1 L540.3 671.9 L541.3 672.6 L542.3 673.4 L543.2 674.2 L544.2 674.9 L545.2 675.7 L546.2 676.4 L547.2 677.2 L548.2 677.9 L549.2 678.7 L550.2 679.4 L551.2 680.1 L552.1 680.9 L553.1 681.6 L554.1 682.3 L555.1 683.0 L556.1 683.8 L557.1 684.5 L558.1 685.2 L559.1 685.9 L560.1 686.6 L561.1 687.3 L562.0 688.0 L563.0 688.7 L564.0 689.3 L565.0 690.0 L566.0 690.7 L567.0 691.4 L568.0 692.1 L569.0 692.7 L570.0 693.4 L571.0 694.1 L571.9 694.7 L572.9 695.4 L573.9 696.0 L574.9 696.7 L575.9 697.3 L576.9 698.0 L577.9 698.6 L578.9 699.3 L579.9 699.9 L580.9 700.5 L581.8 701.2 L582.8 701.8 L583.8 702.4 L584.8 703.0 L585.8 703.6 L586.8 704.3 L587.8 704.9 L588.8 705.5 L589.8 706.1 L590.8 706.7 L591.7 707.3 L592.7 707.9 L593.7 708.5 L594.7 709.1 L595.7 709.7 L596.7 710.3 L597.7 710.9 L598.7 711.4 L599.7 712.0 L600.7 712.6 L601.6 713.2 L602.6 713.7 L603.6 714.3 L604.6 714.9 L605.6 715.5 L606.6 716.0 L607.6 716.6 L608.6 717.1 L609.6 717.7 L610.6 718.3 L611.5 718.8 L612.5 719.4 L613.5 719.9 L614.5 720.4 L615.5 721.0 L616.5 721.5 L617.5 722.1 L618.5 722.6 L619.5 723.1 L620.5 723.7 L621.4 724.2 L622.4 724.7 L623.4 725.3 L624.4 725.8 L625.4 726.3 L626.4 726.8 L627.4 727.3 L628.4 727.8 L629.4 728.4 L630.4 728.9 L631.3 729.4 L632.3 729.9 L633.3 730.4 L634.3 730.9 L635.3 731.4 L636.3 731.9 L637.3 732.4 L638.3 732.9 L639.3 733.4 L640.3 733.9 L641.2 734.4 L642.2 734.8 L643.2 735.3 L644.2 735.8 L645.2 736.3 L649.0 738.1 L652.9 740.0 L656.7 741.8 L660.6 743.5 L664.4 745.3 L668.3 747.0 L672.1 748.7 L675.9 750.4 L679.8 752.0 L683.6 753.7 L687.5 755.3 L691.3 756.8 L695.1 758.4 L699.0 760.0 L702.8 761.5 L706.7 763.0 L710.5 764.5 L714.4 765.9 L718.2 767.4 L722.0 768.8 L725.9 770.2 L729.7 771.6 L733.6 773.0 L737.4 774.3 L741.3 775.7 L745.1 777.0 L748.9 778.3 L752.8 779.6 L756.6 780.9 L760.5 782.1 L764.3 783.4 L768.2 784.6 L772.0 785.9 L775.8 787.1 L779.7 788.3 L783.5 789.4 L787.4 790.6 L791.2 791.8 L795.0 792.9 L798.9 794.0 L802.7 795.1 L806.6 796.2 L810.4 797.3 L814.3 798.4 L818.1 799.5 L821.9 800.5 L825.8 801.6 L829.6 802.6 L833.5 803.7 L837.3 804.7 L841.2 805.7 L845.0 806.7 L848.8 807.7 L852.7 808.6 L856.5 809.6 L860.4 810.5 L864.2 811.5 L868.1 812.4 L871.9 813.4 L875.7 814.3 L879.6 815.2 L883.4 816.1 L887.3 817.0 L891.1 817.9 L894.9 818.7 L898.8 819.6 L902.6 820.5 L906.5 821.3 L910.3 822.2 L914.2 823.0 L918.0 823.8 L921.8 824.6 L925.7 825.5 L929.5 826.3 L933.4 827.1 L937.2 827.8 L941.1 828.6 L944.9 829.4 L948.7 830.2 L952.6 830.9 L956.4 831.7 L960.3 832.4 L964.1 833.2 L968.0 833.9 L971.8 834.7 L975.6 835.4 L979.5 836.1 L983.3 836.8 L987.2 837.5 L991.0 838.2 L994.8 838.9 L998.7 839.6 L1002.5 840.3 L1006.4 841.0 L1010.2 841.6 L1014.1 842.3 L1017.9 843.0 L1021.7 843.6 L1025.6 844.3 L1029.4 844.9 L1033.3 845.6 L1037.1 846.2 L1041.0 846.8 L1044.8 847.5 L1048.6 848.1 L1052.5 848.7 L1056.3 849.3 L1060.2 849.9 L1064.0 850.5 L1067.9 851.1 L1071.7 851.7 L1075.5 852.3 L1079.4 852.9 L1083.2 853.5 L1087.1 854.0 L1090.9 854.6 L1094.7 855.2 L1098.6 855.7 L1102.4 856.3 L1106.3 856.9 L1110.1 857.4 L1114.0 857.9 L1117.8 858.5 L1121.6 859.0 L1125.5 859.6 L1129.3 860.1 L1133.2 860.6 L1137.0 861.1 L1140.9 861.7 L1144.7 862.2 L1148.5 862.7 L1152.4 863.2 L1156.2 863.7 L1160.1 864.2 L1163.9 864.7 L1167.8 865.2 L1171.6 865.7 L1175.4 866.2 L1179.3 866.7 L1183.1 867.1 L1187.0 867.6 L1190.8 868.1 L1194.6 868.6 L1198.5 869.0 L1202.3 869.5 L1206.2 870.0 L1210.0 870.4 L1213.9 870.9 L1217.7 871.3 L1221.5 871.8 L1225.4 872.2 L1229.2 872.7 L1233.1 873.1 L1236.9 873.5 L1240.8 874.0 L1244.6 874.4 L1248.4 874.8 L1252.3 875.3 L1256.1 875.7 L1260.0 876.1 L1263.8 876.5 L1267.7 877.0 L1271.5 877.4 L1275.3 877.8 L1279.2 878.2 L1283.0 878.6 L1286.9 879.0 L1290.7 879.4 L1294.5 879.8 L1298.4 880.2 L1302.2 880.6 L1306.1 881.0 L1309.9 881.4 L1313.8 881.8 L1317.6 882.1 L1321.4 882.5 L1325.3 882.9 L1329.1 883.3 L1333.0 883.7 L1336.8 884.0 L1340.7 884.4 L1344.5 884.8 L1348.3 885.1 L1352.2 885.5 L1356.0 885.9 L1359.9 886.2 L1363.7 886.6 L1367.5 886.9 L1371.4 887.3 L1375.2 887.6 L1379.1 888.0 L1382.9 888.3 L1386.8 888.7 L1390.6 889.0 L1394.4 889.4 L1398.3 889.7 L1402.1 890.0 L1406.0 890.4 L1409.8 890.7" stroke="#EDB120"/>
</g>
<g stroke="#262626" stroke-width="2.9" fill="none" stroke-linecap="butt">
<rect x="151.3" y="38.2" width="1232.9" height="972.3"/>
<path d="M397.9 1010.5v-13.5M397.9 38.2v13.5M644.5 1010.5v-13.5M644.5 38.2v13.5M891.0 1010.5v-13.5M891.0 38.2v13.5M1137.6 1010.5v-13.5M1137.6 38.2v13.5M151.3 913.3h13.5M1384.2 913.3h-13.5M151.3 816.0h13.5M1384.2 816.0h-13.5M151.3 718.8h13.5M1384.2 718.8h-13.5M151.3 621.6h13.5M1384.2 621.6h-13.5M151.3 524.4h13.5M1384.2 524.4h-13.5M151.3 427.1h13.5M1384.2 427.1h-13.5M151.3 329.9h13.5M1384.2 329.9h-13.5M151.3 232.7h13.5M1384.2 232.7h-13.5M151.3 135.4h13.5M1384.2 135.4h-13.5"/>
</g>
<text class="t" x="151.3" y="1063" text-anchor="middle" textLength="20.9" lengthAdjust="spacingAndGlyphs">0</text>
<text class="t" x="395.6" y="1063" text-anchor="middle" textLength="52.1" lengthAdjust="spacingAndGlyphs">0.1</text>
<text class="t" x="642.7" y="1063" text-anchor="middle" textLength="52.1" lengthAdjust="spacingAndGlyphs">0.2</text>
<text class="t" x="889.2" y="1063" text-anchor="middle" textLength="52.1" lengthAdjust="spacingAndGlyphs">0.3</text>
<text class="t" x="1135.8" y="1063" text-anchor="middle" textLength="52.1" lengthAdjust="spacingAndGlyphs">0.4</text>
<text class="t" x="1382.4" y="1063" text-anchor="middle" textLength="52.1" lengthAdjust="spacingAndGlyphs">0.5</text>
<text class="t" x="135.2" y="1025.1" text-anchor="end" textLength="20.9" lengthAdjust="spacingAndGlyphs">0</text>
<text class="t" x="135.2" y="927.9" text-anchor="end" textLength="20.9" lengthAdjust="spacingAndGlyphs">5</text>
<text class="t" x="135.2" y="830.6" text-anchor="end" textLength="41.7" lengthAdjust="spacingAndGlyphs">10</text>
<text class="t" x="135.2" y="733.4" text-anchor="end" textLength="41.7" lengthAdjust="spacingAndGlyphs">15</text>
<text class="t" x="135.2" y="636.2" text-anchor="end" textLength="41.7" lengthAdjust="spacingAndGlyphs">20</text>
<text class="t" x="135.2" y="539.0" text-anchor="end" textLength="41.7" lengthAdjust="spacingAndGlyphs">25</text>
<text class="t" x="135.2" y="441.7" text-anchor="end" textLength="41.7" lengthAdjust="spacingAndGlyphs">30</text>
<text class="t" x="135.2" y="344.5" text-anchor="end" textLength="41.7" lengthAdjust="spacingAndGlyphs">35</text>
<text class="t" x="135.2" y="247.3" text-anchor="end" textLength="41.7" lengthAdjust="spacingAndGlyphs">40</text>
<text class="t" x="135.2" y="150.0" text-anchor="end" textLength="41.7" lengthAdjust="spacingAndGlyphs">45</text>
<text class="t" x="135.2" y="52.8" text-anchor="end" textLength="41.7" lengthAdjust="spacingAndGlyphs">50</text>
<g fill="#4DBEEE" stroke="#000" stroke-width="3.0">
<circle cx="264.9" cy="411.0" r="11.5"/><circle cx="271.9" cy="660.0" r="11.5"/><circle cx="282.0" cy="798.1" r="11.5"/><circle cx="293.9" cy="866.1" r="11.5"/><circle cx="299.0" cy="880.2" r="11.5"/><circle cx="302.4" cy="883.7" r="11.5"/><circle cx="305.5" cy="886.9" r="11.5"/><circle cx="318.3" cy="888.2" r="11.5"/><circle cx="341.3" cy="887.3" r="11.5"/><circle cx="430.7" cy="888.2" r="11.5"/><circle cx="445.9" cy="888.0" r="11.5"/><circle cx="552.5" cy="887.4" r="11.5"/><circle cx="584.1" cy="887.4" r="11.5"/><circle cx="588.9" cy="887.4" r="11.5"/><circle cx="604.4" cy="887.4" r="11.5"/><circle cx="608.7" cy="887.4" r="11.5"/><circle cx="619.9" cy="888.4" r="11.5"/><circle cx="644.2" cy="890.1" r="11.5"/><circle cx="756.9" cy="898.0" r="11.5"/><circle cx="949.1" cy="913.0" r="11.5"/><circle cx="1215.5" cy="929.1" r="11.5"/><circle cx="1323.4" cy="934.8" r="11.5"/><circle cx="1358.4" cy="935.5" r="11.5"/>
</g>
<g fill="#77AC30" stroke="#000" stroke-width="3.0">
<circle cx="271.9" cy="329.8" r="11.5"/><circle cx="281.4" cy="534.5" r="11.5"/><circle cx="293.4" cy="660.0" r="11.5"/><circle cx="308.5" cy="728.4" r="11.5"/><circle cx="308.5" cy="734.3" r="11.5"/><circle cx="318.3" cy="756.8" r="11.5"/><circle cx="331.2" cy="773.4" r="11.5"/><circle cx="343.3" cy="787.4" r="11.5"/><circle cx="358.4" cy="796.5" r="11.5"/><circle cx="375.9" cy="804.0" r="11.5"/><circle cx="395.8" cy="810.2" r="11.5"/><circle cx="420.1" cy="815.8" r="11.5"/><circle cx="445.0" cy="821.8" r="11.5"/><circle cx="477.0" cy="827.0" r="11.5"/><circle cx="511.1" cy="833.8" r="11.5"/><circle cx="565.4" cy="843.8" r="11.5"/><circle cx="644.6" cy="856.8" r="11.5"/><circle cx="756.9" cy="873.0" r="11.5"/><circle cx="949.1" cy="896.0" r="11.5"/><circle cx="1323.4" cy="923.0" r="11.5"/>
</g>
<g fill="#A2142F" stroke="#000" stroke-width="3.0">
<circle cx="294.4" cy="228.0" r="11.5"/><circle cx="308.6" cy="381.2" r="11.5"/><circle cx="308.4" cy="396.8" r="11.5"/><circle cx="319.1" cy="457.2" r="11.5"/><circle cx="331.1" cy="511.0" r="11.5"/><circle cx="343.6" cy="555.5" r="11.5"/><circle cx="358.4" cy="593.0" r="11.5"/><circle cx="375.9" cy="625.0" r="11.5"/><circle cx="395.4" cy="653.5" r="11.5"/><circle cx="419.4" cy="680.5" r="11.5"/><circle cx="444.6" cy="702.0" r="11.5"/><circle cx="476.6" cy="723.8" r="11.5"/><circle cx="511.1" cy="743.8" r="11.5"/><circle cx="565.4" cy="768.5" r="11.5"/><circle cx="644.6" cy="797.2" r="11.5"/><circle cx="757.4" cy="828.0" r="11.5"/><circle cx="949.1" cy="863.5" r="11.5"/><circle cx="1323.4" cy="904.2" r="11.5"/><circle cx="1358.4" cy="906.0" r="11.5"/>
</g>
<g fill="#EDB120" stroke="#000" stroke-width="3.0">
<circle cx="309.4" cy="47.0" r="11.5"/><circle cx="318.9" cy="146.0" r="11.5"/><circle cx="331.6" cy="237.5" r="11.5"/><circle cx="343.6" cy="314.8" r="11.5"/><circle cx="358.6" cy="381.2" r="11.5"/><circle cx="376.1" cy="439.8" r="11.5"/><circle cx="394.9" cy="492.2" r="11.5"/><circle cx="419.4" cy="540.5" r="11.5"/><circle cx="444.6" cy="578.8" r="11.5"/><circle cx="476.6" cy="616.0" r="11.5"/><circle cx="510.4" cy="651.2" r="11.5"/><circle cx="564.6" cy="692.2" r="11.5"/><circle cx="643.6" cy="736.0" r="11.5"/><circle cx="756.9" cy="794.2" r="11.5"/><circle cx="949.1" cy="828.5" r="11.5"/><circle cx="1323.4" cy="882.2" r="11.5"/><circle cx="1358.4" cy="884.8" r="11.5"/>
</g>
<text class="s" x="445.6" y="1121.0" font-size="55" stroke="#262626" stroke-width="1.0" textLength="76.7" lengthAdjust="spacingAndGlyphs">CO</text>
<text class="s" x="524.3" y="1130.5" font-size="37" stroke="#262626" stroke-width="1.0" textLength="16" lengthAdjust="spacingAndGlyphs">2</text>
<text class="s" x="562.0" y="1121.0" font-size="55" stroke="#262626" stroke-width="1.0" textLength="130.9" lengthAdjust="spacingAndGlyphs">molar</text>
<text class="s" x="715.3" y="1121.0" font-size="55" stroke="#262626" stroke-width="1.0" textLength="173.4" lengthAdjust="spacingAndGlyphs">volume,</text>
<text class="s" x="920.2" y="1123.5" font-size="61" stroke="#262626" stroke-width="1.0" textLength="11.7" lengthAdjust="spacingAndGlyphs">[</text>
<text class="s" x="933.3" y="1121.0" font-size="55" stroke="#262626" stroke-width="1.0" textLength="28.8" lengthAdjust="spacingAndGlyphs">L</text>
<text class="s" x="967.4" y="1132.5" font-size="76" stroke="#262626" stroke-width="0.3" textLength="22.5" lengthAdjust="spacingAndGlyphs">/</text>
<text class="s" x="992.3" y="1121.0" font-size="55" stroke="#262626" stroke-width="1.0" textLength="85.0" lengthAdjust="spacingAndGlyphs">mol</text>
<text class="s" x="1078.7" y="1123.5" font-size="61" stroke="#262626" stroke-width="1.0" textLength="10.1" lengthAdjust="spacingAndGlyphs">]</text>
<g transform="translate(63.5,0) rotate(-90)">
<text class="s" x="-709.6" y="0.0" font-size="55" stroke="#262626" stroke-width="1.0" textLength="203.3" lengthAdjust="spacingAndGlyphs">Pressure,</text>
<text class="s" x="-473.0" y="2.5" font-size="61" stroke="#262626" stroke-width="1.0" textLength="11.7" lengthAdjust="spacingAndGlyphs">[</text>
<text class="s" x="-459.6" y="0.0" font-size="55" stroke="#262626" stroke-width="1.0" textLength="103.6" lengthAdjust="spacingAndGlyphs">MPa</text>
<text class="s" x="-352.3" y="2.5" font-size="61" stroke="#262626" stroke-width="1.0" textLength="13.2" lengthAdjust="spacingAndGlyphs">]</text>
</g>
<rect x="1089.9" y="68.1" width="264.5" height="233.3" fill="#fff" stroke="#262626" stroke-width="2.2"/>
<path d="M1100.8 101.4H1216" stroke="#4DBEEE" stroke-width="8.8" fill="none"/>
<text y="112.6" font-family="'Liberation Serif',serif" font-size="45.4" fill="#000" stroke="#000" stroke-width="1.2"><tspan x="1223.3">25</tspan><tspan x="1268.7" font-size="31" dy="-18.5">o</tspan><tspan x="1288.1" dy="18.5">C</tspan></text>
<path d="M1100.8 157.3H1216" stroke="#77AC30" stroke-width="8.8" fill="none"/>
<text y="168.7" font-family="'Liberation Serif',serif" font-size="45.4" fill="#000" stroke="#000" stroke-width="1.2"><tspan x="1223.3">50</tspan><tspan x="1268.7" font-size="31" dy="-18.5">o</tspan><tspan x="1288.1" dy="18.5">C</tspan></text>
<path d="M1100.8 213.4H1216" stroke="#A2142F" stroke-width="8.8" fill="none"/>
<text y="225.0" font-family="'Liberation Serif',serif" font-size="45.4" fill="#000" stroke="#000" stroke-width="1.2"><tspan x="1223.3">100</tspan><tspan x="1291.7" font-size="31" dy="-18.5">o</tspan><tspan x="1311.1" dy="18.5">C</tspan></text>
<path d="M1100.8 269.5H1216" stroke="#EDB120" stroke-width="8.8" fill="none"/>
<text y="281.0" font-family="'Liberation Serif',serif" font-size="45.4" fill="#000" stroke="#000" stroke-width="1.2"><tspan x="1223.3">150</tspan><tspan x="1291.7" font-size="31" dy="-18.5">o</tspan><tspan x="1311.1" dy="18.5">C</tspan></text>
</svg>
</body></html>
